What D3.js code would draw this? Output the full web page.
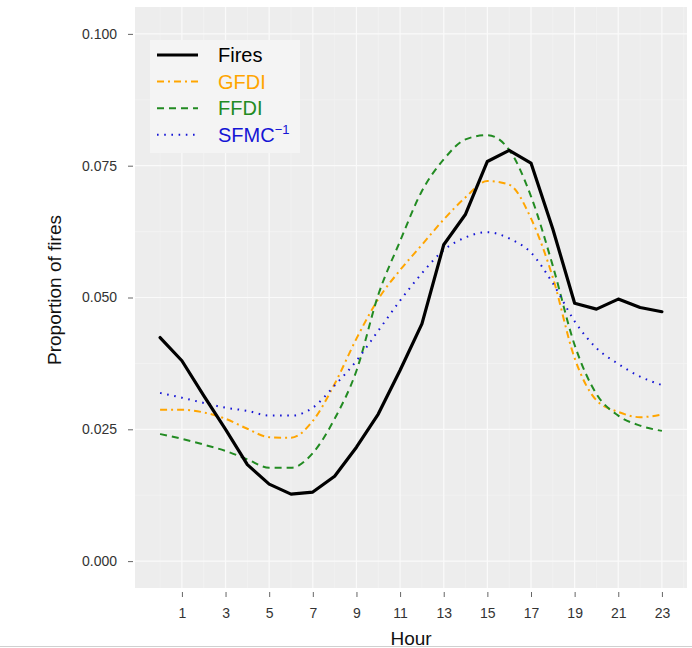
<!DOCTYPE html>
<html>
<head>
<meta charset="utf-8">
<script src="https://cdn.jsdelivr.net/npm/d3@7"></script>
<style>
  body { margin: 0; background: #fff; }
  svg { display: block; font-family: "Liberation Sans", Arial, sans-serif; }
</style>
</head>
<body>
<svg id="chart" width="692" height="648"></svg>
<script>
// Hour of day, 0..23
const hours = d3.range(0, 24);

// Proportion of fires starting in each hour
const fires = [0.0424, 0.0380, 0.0314, 0.0250, 0.0183, 0.0146, 0.0127, 0.0131, 0.0161, 0.0216,
               0.0279, 0.0362, 0.0450, 0.0600, 0.0658, 0.0758, 0.0779, 0.0755, 0.0630, 0.0489,
               0.0478, 0.0497, 0.0481, 0.0473];

// Normalised hourly profiles of the fire danger indices
const gfdi = [0.0287, 0.0287, 0.0282, 0.0270, 0.0251, 0.0235, 0.0234, 0.0266, 0.0336, 0.0422,
              0.0497, 0.0552, 0.0600, 0.0648, 0.0690, 0.0721, 0.0714, 0.0650, 0.0538, 0.0385,
              0.0305, 0.0283, 0.0273, 0.0278];
const ffdi = [0.0241, 0.0232, 0.0221, 0.0209, 0.0193, 0.0177, 0.0177, 0.0205, 0.0270, 0.0361,
              0.0505, 0.0607, 0.0702, 0.0762, 0.0800, 0.0808, 0.0780, 0.0692, 0.0560, 0.0410,
              0.0317, 0.0276, 0.0257, 0.0247];
const sfmc = [0.0319, 0.0310, 0.0300, 0.0291, 0.0285, 0.0276, 0.0276, 0.0291, 0.0333, 0.0380,
              0.0437, 0.0494, 0.0546, 0.0590, 0.0614, 0.0624, 0.0612, 0.0585, 0.0527, 0.0455,
              0.0404, 0.0374, 0.0350, 0.0334];

const xTicks = [1, 3, 5, 7, 9, 11, 13, 15, 17, 19, 21, 23];
const yTicks = [0, 0.025, 0.05, 0.075, 0.1];

const svg = d3.select("#chart");
const panel = { left: 135, right: 687, top: 7, bottom: 588 };

const x = d3.scaleLinear().domain([-1.15, 24.15]).range([panel.left, panel.right]);
const y = d3.scaleLinear().domain([-0.0051, 0.1051]).range([panel.bottom, panel.top]);

// Panel background
svg.append("rect")
  .attr("x", panel.left).attr("y", panel.top)
  .attr("width", panel.right - panel.left).attr("height", panel.bottom - panel.top)
  .attr("fill", "#EDEDED");

// Minor and major grid lines
const grid = svg.append("g");
const xMinor = d3.range(0, 25, 2);
const yMinor = [0.0125, 0.0375, 0.0625, 0.0875];
grid.selectAll(".xmin").data(xMinor).join("line")
  .attr("x1", d => x(d)).attr("x2", d => x(d))
  .attr("y1", panel.top).attr("y2", panel.bottom)
  .attr("stroke", "#F5F5F5").attr("stroke-width", 0.6);
grid.selectAll(".ymin").data(yMinor).join("line")
  .attr("y1", d => y(d)).attr("y2", d => y(d))
  .attr("x1", panel.left).attr("x2", panel.right)
  .attr("stroke", "#F5F5F5").attr("stroke-width", 0.6);
grid.selectAll(".xmaj").data(xTicks).join("line")
  .attr("x1", d => x(d)).attr("x2", d => x(d))
  .attr("y1", panel.top).attr("y2", panel.bottom)
  .attr("stroke", "#FAFAFA").attr("stroke-width", 1.2);
grid.selectAll(".ymaj").data(yTicks).join("line")
  .attr("y1", d => y(d)).attr("y2", d => y(d))
  .attr("x1", panel.left).attr("x2", panel.right)
  .attr("stroke", "#FAFAFA").attr("stroke-width", 1.2);

// Axes
const xAxis = d3.axisBottom(x).tickValues(xTicks).tickSize(5).tickPadding(11).tickFormat(d3.format("d"));
const yAxis = d3.axisLeft(y).tickValues(yTicks).tickSize(5).tickPadding(11).tickFormat(d3.format(".3f"));

const gx = svg.append("g").attr("transform", `translate(0,${panel.bottom + 4})`).call(xAxis);
const gy = svg.append("g").attr("transform", `translate(${panel.left - 2},0)`).call(yAxis);
[gx, gy].forEach(g => {
  g.select(".domain").remove();
  g.selectAll(".tick line").attr("stroke", "#666").attr("stroke-width", 1);
  g.selectAll(".tick text").attr("fill", "#333").attr("font-size", 14);
});

// Axis titles
svg.append("text")
  .attr("x", 411).attr("y", 645)
  .attr("text-anchor", "middle").attr("font-size", 19).attr("fill", "#111")
  .text("Hour");
svg.append("text")
  .attr("transform", "translate(61,290) rotate(-90)")
  .attr("text-anchor", "middle").attr("font-size", 19).attr("fill", "#111")
  .text("Proportion of fires");

// Series
const series = [
  { name: "Fires", values: fires, color: "#000000", width: 3.2, dash: null, curve: d3.curveLinear },
  { name: "GFDI", values: gfdi, color: "#FFA500", width: 2, dash: "7,4,2,4", curve: d3.curveMonotoneX },
  { name: "FFDI", values: ffdi, color: "#228B22", width: 2, dash: "7,5", curve: d3.curveMonotoneX },
  { name: "SFMC", values: sfmc, color: "#1515D5", width: 2, dash: "1.6,5.6", curve: d3.curveMonotoneX }
];

const drawOrder = [series[1], series[2], series[3], series[0]];
drawOrder.forEach(s => {
  const line = d3.line().x((d, i) => x(hours[i])).y(d => y(d)).curve(s.curve);
  svg.append("path")
    .datum(s.values)
    .attr("d", line)
    .attr("fill", "none")
    .attr("stroke", s.color)
    .attr("stroke-width", s.width)
    .attr("stroke-dasharray", s.dash)
    .attr("stroke-linejoin", "round")
    .attr("stroke-linecap", s.dash ? "butt" : "round");
});

// Legend
const lg = svg.append("g");
lg.append("rect")
  .attr("x", 150).attr("y", 40).attr("width", 150).attr("height", 113)
  .attr("fill", "#F4F4F4");
series.forEach((s, i) => {
  const yy = 55 + i * 26.6;
  lg.append("line")
    .attr("x1", 157).attr("x2", 198).attr("y1", yy).attr("y2", yy)
    .attr("stroke", s.color).attr("stroke-width", s.width)
    .attr("stroke-dasharray", s.dash);
  const t = lg.append("text")
    .attr("x", 218).attr("y", yy + 7)
    .attr("font-size", 20).attr("fill", s.color)
    .text(s.name);
  if (s.name === "SFMC") {
    t.append("tspan").attr("dy", -8).attr("font-size", 13).text("\u22121");
  }
});

// Bottom border line
svg.append("line")
  .attr("x1", 0).attr("x2", 692).attr("y1", 646.5).attr("y2", 646.5)
  .attr("stroke", "#D0D0D0").attr("stroke-width", 1);
</script>
</body>
</html>
